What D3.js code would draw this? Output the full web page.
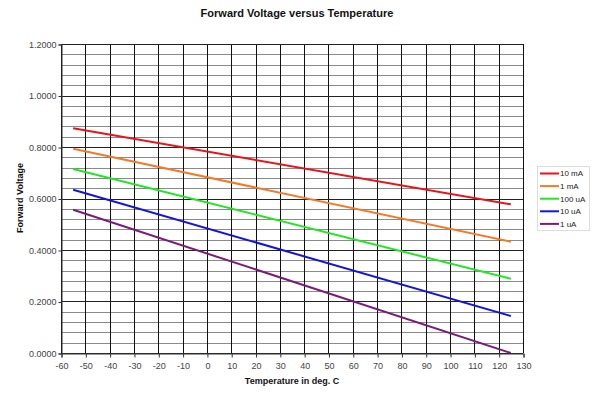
<!DOCTYPE html>
<html>
<head>
<meta charset="utf-8">
<script src="https://cdn.jsdelivr.net/npm/d3@7"></script>
<style>
body{margin:0;background:#fff;}
svg{font-family:"Liberation Sans",Arial,sans-serif;}
</style>
</head>
<body>
<svg id="chart" width="600" height="396"></svg>
<script>
const temps = [-55, 125];
const seriesNames = ["10 mA", "1 mA", "100 uA", "10 uA", "1 uA"];
const seriesColors = ["#e8141c", "#f57a28", "#22e622", "#1414e0", "#7b1a7b"];
const v10mA = [0.8726, 0.5775];
const v1mA = [0.7930, 0.4320];
const v100uA = [0.7146, 0.2887];
const v10uA = [0.6340, 0.1437];
const v1uA = [0.5566, 0.0000];
const xTicks = d3.range(-60, 131, 10);
const yTicks = [0, 0.2, 0.4, 0.6, 0.8, 1.0, 1.2];
const yMinor = d3.range(0, 1.2001, 0.04);

const values = [v10mA, v1mA, v100uA, v10uA, v1uA];
const svg = d3.select("#chart");
const L = 61, R = 523, T = 44, B = 353;
const x = d3.scaleLinear().domain([-60, 130]).range([L, R]);
const y = d3.scaleLinear().domain([0, 1.2]).range([B, T]);

// minor gridlines
svg.append("g").selectAll("line").data(yMinor).join("line")
  .attr("x1", L).attr("x2", R)
  .attr("y1", d => Math.round(y(d)) + 0.5).attr("y2", d => Math.round(y(d)) + 0.5)
  .attr("stroke", "#8a8a8a").attr("stroke-width", 1);
// vertical gridlines
svg.append("g").selectAll("line").data(xTicks).join("line")
  .attr("x1", d => Math.round(x(d)) + 0.5).attr("x2", d => Math.round(x(d)) + 0.5)
  .attr("y1", T).attr("y2", B)
  .attr("stroke", "#111").attr("stroke-width", 1);
// major horizontal gridlines
svg.append("g").selectAll("line").data(yTicks).join("line")
  .attr("x1", L).attr("x2", R)
  .attr("y1", d => Math.round(y(d)) + 0.5).attr("y2", d => Math.round(y(d)) + 0.5)
  .attr("stroke", "#222").attr("stroke-width", 1);

// axes
const xAxis = d3.axisBottom(x).tickValues(xTicks).tickSize(4).tickFormat(d => String(d));
const gx = svg.append("g").attr("transform", `translate(0.5,${B + 0.5})`).call(xAxis);
gx.select(".domain").attr("stroke", "#333");
gx.selectAll(".tick line").attr("stroke", "#333");
gx.selectAll("text").attr("fill", "#444").attr("font-size", 9).attr("font-family", "Liberation Sans, Arial, sans-serif").attr("dy", "0.9em");

const yAxis = d3.axisLeft(y).tickValues(yTicks).tickSize(3).tickFormat(d => d.toFixed(4));
const gy = svg.append("g").attr("transform", `translate(${L + 0.5},0.5)`).call(yAxis);
gy.select(".domain").attr("stroke", "#333");
gy.selectAll(".tick line").attr("stroke", "#333");
gy.selectAll("text").attr("fill", "#444").attr("font-size", 9).attr("font-family", "Liberation Sans, Arial, sans-serif").attr("x", -5);

// series
const line = d3.line().x((d, i) => x(temps[i])).y(d => y(d));
svg.append("g").selectAll("path").data(values).join("path")
  .attr("d", d => line(d))
  .attr("fill", "none")
  .attr("stroke", (d, i) => seriesColors[i])
  .attr("stroke-width", 2);

// titles
svg.append("text").attr("x", 297).attr("y", 17).attr("text-anchor", "middle")
  .attr("font-size", 11).attr("font-weight", "bold").attr("fill", "#111")
  .text("Forward Voltage versus Temperature");
svg.append("text").attr("x", 292).attr("y", 384).attr("text-anchor", "middle")
  .attr("font-size", 9).attr("font-weight", "bold").attr("fill", "#111")
  .text("Temperature in deg. C");
svg.append("text").attr("transform", "translate(23,198) rotate(-90)").attr("text-anchor", "middle")
  .attr("font-size", 9).attr("font-weight", "bold").attr("fill", "#111")
  .text("Forward Voltage");

// legend
const lg = svg.append("g").attr("transform", "translate(537,166)");
lg.append("rect").attr("x", 0.5).attr("y", 0.5).attr("width", 52).attr("height", 64)
  .attr("fill", "#fff").attr("stroke", "#ddd");
const li = lg.selectAll("g.item").data(seriesNames).join("g")
  .attr("class", "item").attr("transform", (d, i) => `translate(0,${7.5 + i * 12.6})`);
li.append("line").attr("x1", 3).attr("x2", 22).attr("y1", 0).attr("y2", 0)
  .attr("stroke", (d, i) => seriesColors[i]).attr("stroke-width", 2);
li.append("text").attr("x", 23).attr("y", 0).attr("dy", "0.35em")
  .attr("font-size", 8).attr("fill", "#222").text(d => d);
</script>
</body>
</html>
